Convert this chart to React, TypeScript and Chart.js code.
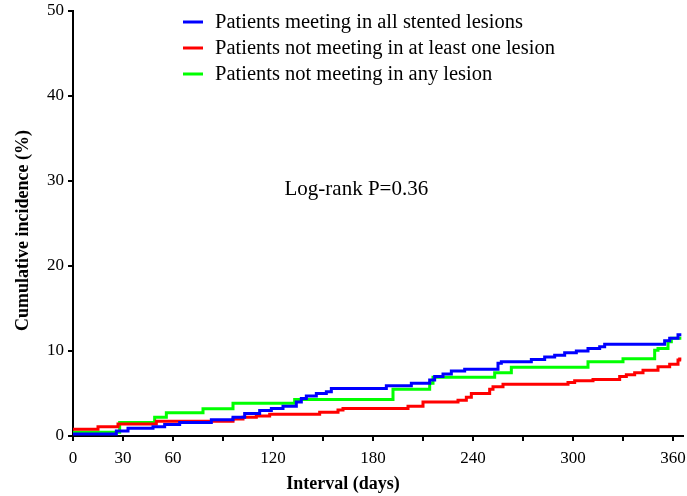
import React, { useEffect, useRef } from "react";
import { Chart, registerables } from "chart.js";

Chart.register(...registerables);

// ---- data ----
const seriesLabels = [
  "Patients meeting in all stented lesions",
  "Patients not meeting in at least one lesion",
  "Patients not meeting in any lesion",
];
const seriesColors = ["#0000ff", "#ff0000", "#00ff00"];

const blueDays = [0, 26, 33, 48, 55, 64, 83, 96, 103, 112, 119, 126, 134, 137, 140, 146, 152, 155, 188, 203, 214, 217, 222, 227, 235, 255, 257, 275, 283, 289, 295, 302, 309, 316, 319, 355, 358, 363, 365];
const blueValues = [0.25, 0.6, 0.9, 1.1, 1.35, 1.6, 1.9, 2.2, 2.65, 3.0, 3.25, 3.5, 4.0, 4.4, 4.7, 5.0, 5.2, 5.6, 5.9, 6.2, 6.6, 7.0, 7.3, 7.65, 7.85, 8.55, 8.75, 9.0, 9.3, 9.5, 9.8, 10.0, 10.3, 10.5, 10.8, 11.2, 11.5, 11.9, 11.9];

const redDays = [0, 15, 27, 50, 96, 102, 110, 118, 148, 159, 162, 201, 210, 231, 236, 239, 250, 252, 258, 297, 301, 312, 328, 332, 337, 342, 351, 358, 363, 364, 365];
const redValues = [0.8, 1.1, 1.4, 1.75, 2.0, 2.2, 2.35, 2.55, 2.8, 3.05, 3.25, 3.5, 4.0, 4.2, 4.55, 5.0, 5.5, 5.8, 6.1, 6.3, 6.5, 6.65, 7.0, 7.2, 7.45, 7.75, 8.15, 8.45, 8.95, 9.05, 9.05];

const greenDays = [0, 28, 49, 56, 78, 96, 133, 192, 214, 216, 253, 263, 309, 330, 349, 351, 357, 359, 365];
const greenValues = [0.45, 1.6, 2.2, 2.75, 3.2, 3.85, 4.3, 5.5, 6.2, 6.9, 7.45, 8.1, 8.75, 9.1, 10.1, 10.3, 11.1, 11.5, 11.5];

const xTickValues = [0, 30, 60, 90, 120, 150, 180, 210, 240, 270, 300, 330, 360];
const xTickLabels = ["0", "30", "60", "", "120", "", "180", "", "240", "", "300", "", "360"];
const yTicks = [0, 10, 20, 30, 40, 50];

const annotationText = "Log-rank P=0.36";
const annotationAt = { day: 170, value: 29.0 };

const xTitle = "Interval (days)";
const yTitle = "Cumulative incidence (%)";

const FONT = "'Liberation Serif', 'Times New Roman', serif";

function toPoints(days: number[], values: number[]) {
  return days.map((d, i) => ({ x: d, y: values[i] }));
}

const legendPlugin = {
  id: "customLegend",
  afterDraw(chart: any) {
    const { ctx, chartArea } = chart;
    ctx.save();
    ctx.font = `20.5px ${FONT}`;
    ctx.textBaseline = "middle";
    ctx.textAlign = "left";
    chart.data.datasets.forEach((ds: any, i: number) => {
      const y = chartArea.top + 11 + i * 26;
      const x0 = chartArea.left + 110;
      ctx.strokeStyle = ds.borderColor;
      ctx.lineWidth = 3;
      ctx.beginPath();
      ctx.moveTo(x0, y);
      ctx.lineTo(x0 + 20, y);
      ctx.stroke();
      ctx.fillStyle = "#000";
      ctx.fillText(ds.label, x0 + 32, y + 1);
    });
    ctx.restore();
  },
};

const textPlugin = {
  id: "texts",
  afterDraw(chart: any) {
    const { ctx, chartArea } = chart;
    const x = chart.scales.x.getPixelForValue(annotationAt.day);
    const y = chart.scales.y.getPixelForValue(annotationAt.value);
    ctx.save();
    ctx.fillStyle = "#000";
    ctx.textAlign = "center";
    ctx.textBaseline = "middle";
    ctx.font = `21px ${FONT}`;
    ctx.fillText(annotationText, x, y);
    // axis titles
    ctx.font = `bold 18px ${FONT}`;
    ctx.fillText(xTitle, chartArea.left + 270, chartArea.bottom + 48);
    ctx.translate(23, (chartArea.top + chartArea.bottom) / 2 + 7);
    ctx.rotate(-Math.PI / 2);
    ctx.fillText(yTitle, 0, 0);
    ctx.restore();
  },
};

export default function App() {
  const ref = useRef<HTMLCanvasElement | null>(null);
  useEffect(() => {
    if (!ref.current) return;
    const series = [
      toPoints(blueDays, blueValues),
      toPoints(redDays, redValues),
      toPoints(greenDays, greenValues),
    ];
    const chart = new Chart(ref.current, {
      type: "line",
      data: {
        datasets: series.map((pts, i) => ({
          label: seriesLabels[i],
          data: pts,
          borderColor: seriesColors[i],
          backgroundColor: seriesColors[i],
          borderWidth: 3,
          pointRadius: 0,
          stepped: "before" as const,
          fill: false,
        })),
      },
      options: {
        responsive: false,
        animation: false,
        layout: { padding: { top: 11, right: 4, left: 0, bottom: 0 } },
        plugins: {
          legend: { display: false },
          tooltip: { enabled: false },
        },
        scales: {
          x: {
            type: "linear",
            min: 0,
            max: 366,
            afterFit: (s: any) => {
              s.height = 60;
              s.paddingLeft = 0;
              s.paddingRight = 0;
            },
            afterBuildTicks: (s: any) => {
              s.ticks = xTickValues.map((v) => ({ value: v }));
            },
            ticks: {
              autoSkip: false,
              maxRotation: 0,
              includeBounds: false,
              color: "#000",
              font: { family: FONT, size: 17 },
              padding: 7,
              callback: (v: any) => {
                const idx = xTickValues.indexOf(Number(v));
                return idx >= 0 ? xTickLabels[idx] : "";
              },
            },
            grid: {
              drawOnChartArea: false,
              drawTicks: true,
              tickLength: 5,
              color: "#000",
              lineWidth: 2,
            },
            border: { display: true, color: "#000", width: 2 },
          },
          y: {
            type: "linear",
            min: 0,
            max: 50,
            afterFit: (s: any) => {
              s.width = 73;
              s.paddingTop = 0;
              s.paddingBottom = 0;
            },
            afterBuildTicks: (s: any) => {
              s.ticks = yTicks.map((v) => ({ value: v }));
            },
            ticks: {
              color: "#000",
              font: { family: FONT, size: 17 },
              padding: 4,
            },
            grid: {
              drawOnChartArea: false,
              drawTicks: true,
              tickLength: 5,
              color: "#000",
              lineWidth: 2,
            },
            border: { display: true, color: "#000", width: 2 },
          },
        },
      },
      plugins: [legendPlugin, textPlugin],
    } as any);
    return () => chart.destroy();
  }, []);
  return (
    <div style={{ position: "fixed", left: 0, top: 0, width: 687, height: 496, background: "#fff" }}>
      <canvas ref={ref} width={687} height={496} style={{ display: "block" }} />
    </div>
  );
}
